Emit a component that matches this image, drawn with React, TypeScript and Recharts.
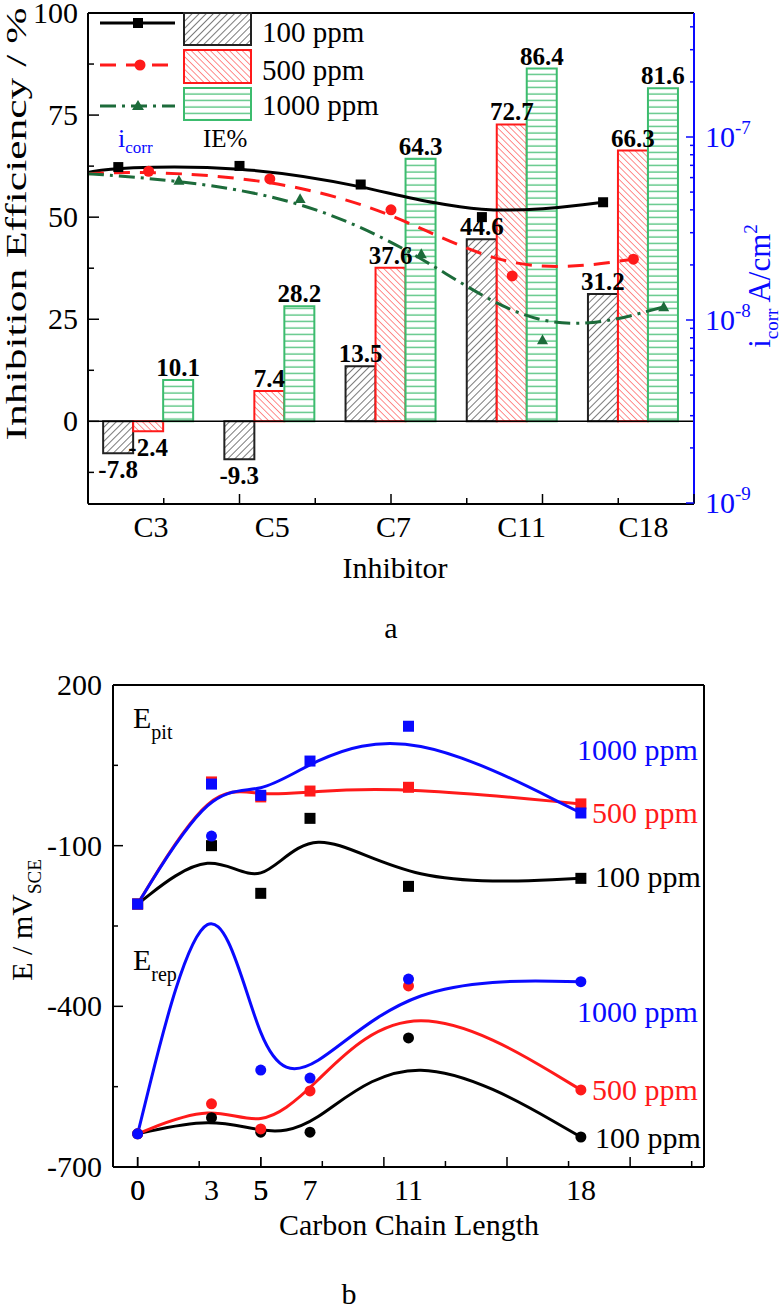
import React from "react"
import {
  ComposedChart,
  Bar,
  Line,
  XAxis,
  YAxis,
  ReferenceLine,
  LabelList,
} from "recharts"

const SERIF = "'Liberation Serif', 'Times New Roman', Times, serif"
const BLUE = "#0a0aff"
const RED = "#ff1a1a"
const DKGREEN = "#1c6b3a"
const BARGREEN = "#3cbc6e"

// ---------- (a) inhibition efficiency (bars) + i_corr (curves)
const inhibitors = ["C3", "C5", "C7", "C11", "C18"]
const ie100 = [-7.8, -9.3, 13.5, 44.6, 31.2]
const ie500 = [-2.4, 7.4, 37.6, 72.7, 66.3]
const ie1000 = [10.1, 28.2, 64.3, 86.4, 81.6]

// i_corr in A/cm2, first entry = blank (no inhibitor)
const icorr100 = [6.4e-8, 6.85e-8, 6.95e-8, 5.5e-8, 3.65e-8, 4.4e-8]
const icorr500 = [6.3e-8, 6.5e-8, 5.9e-8, 4.0e-8, 1.74e-8, 2.15e-8]
const icorr1000 = [6.3e-8, 5.8e-8, 4.6e-8, 2.3e-8, 7.8e-9, 1.18e-8]

const ieTicks = [-12.5, 0, 12.5, 25, 37.5, 50, 62.5, 75, 87.5, 100]
const ieLabels = [0, 25, 50, 75, 100]
const icorrMajor = [1e-9, 1e-8, 1e-7]
const icorrMinor = [
  2e-9, 3e-9, 4e-9, 5e-9, 6e-9, 7e-9, 8e-9, 9e-9,
  2e-8, 3e-8, 4e-8, 5e-8, 6e-8, 7e-8, 8e-8, 9e-8,
  2e-7, 3e-7, 4e-7,
]
const inhMajorMarks = [0, 1.25, 2.5, 3.75, 5]
const inhMinorMarks = [0.625, 1.875, 3.125, 4.375]

// ---------- (b) E_pit / E_rep vs carbon chain length
const chainLength = [0, 3, 5, 7, 11, 18]
const pit100 = [-209, -100, -189, -49, -176, -161]
const pit500 = [-209, 19, -9, 2, 9, -22]
const pit1000 = [-209, 15, -6, 58, 123, -39]
const rep100 = [-638, -608, -635, -635, -459, -644]
const rep500 = [-638, -582, -629, -558, -362, -556]
const rep1000 = [-638, -82, -519, -534, -349, -354]

const chainMajorMarks = [0, 5, 10, 15, 20]
const chainMinorMarks = [2.5, 7.5, 12.5, 17.5, 22.5]
const eTicks = [200, 50, -100, -250, -400, -550, -700]
const eLabels = [200, -100, -400, -700]

// build tables for the library
const barRows = inhibitors.map((name, i) => ({
  name,
  c100: ie100[i],
  c500: ie500[i],
  c1000: ie1000[i],
}))
// markers sit on their own bar: 100 left, 500 middle, 1000 right
const curve = (vals: number[], shift: number) =>
  vals.map((v, i) => ({ x: i === 0 ? 0 : i - 0.5 + shift, v }))
const chainRows = (vals: number[]) => chainLength.map((x, i) => ({ x, v: vals[i] }))

const txt = (size: number, extra: React.CSSProperties = {}): React.CSSProperties => ({
  fontFamily: SERIF,
  fontSize: size,
  ...extra,
})

// ---------- markers
const dotShape = (shape: string, color: string, size: number, skipFirst: boolean) =>
  (p: any) => {
    const { cx, cy, index } = p
    if (cx == null || cy == null || (skipFirst && index === 0)) return <g key={`d${index}`} />
    const h = size / 2
    if (shape === "square")
      return <rect key={`d${index}`} x={cx - h} y={cy - h} width={size} height={size} fill={color} />
    if (shape === "circle")
      return <circle key={`d${index}`} cx={cx} cy={cy} r={h} fill={color} />
    return (
      <polygon
        key={`d${index}`}
        points={`${cx},${cy - h} ${cx + h},${cy + h * 0.8} ${cx - h},${cy + h * 0.8}`}
        fill={color}
      />
    )
  }

// ---------- ticks (all drawn inward, Origin style)
const IeTick = (p: any) => {
  const v = p.payload.value
  const major = ieLabels.includes(v)
  return (
    <g>
      <line x1={p.x} x2={p.x + (major ? 11 : 6)} y1={p.y} y2={p.y} stroke="#000" strokeWidth={1.5} />
      {major && (
        <text x={p.x - 10} y={p.y + 10} textAnchor="end" fill="#000" style={txt(30)}>
          {v}
        </text>
      )}
    </g>
  )
}

const IcorrTick = (p: any) => {
  const v = p.payload.value
  const exp = Math.round(Math.log10(v))
  const major = icorrMajor.includes(v)
  return (
    <g>
      <line x1={p.x} x2={p.x - (major ? 8 : 4)} y1={p.y} y2={p.y} stroke={BLUE} strokeWidth={1.5} />
      {major && (
        <text x={p.x + 11} y={p.y + 10} fill={BLUE} style={txt(30)}>
          <tspan>10</tspan>
          <tspan dy={-13} style={txt(19)}>{String(exp)}</tspan>
        </text>
      )}
    </g>
  )
}

const InhMarkTick = (p: any) => {
  const v = p.payload.value
  const len = inhMajorMarks.includes(v) ? 10 : 6
  return <line x1={p.x} x2={p.x} y1={p.y} y2={p.y - len} stroke="#000" strokeWidth={1.5} />
}

const InhLabelTick = (p: any) => (
  <text x={p.x - 15} y={p.y + 34} fill="#000" style={txt(30)}>
    {p.payload.value}
  </text>
)

const ChainTick = (p: any) => {
  const v = p.payload.value
  const len = chainMajorMarks.includes(v) ? 10 : chainMinorMarks.includes(v) ? 6 : 0
  return (
    <g>
      {len > 0 && <line x1={p.x} x2={p.x} y1={p.y} y2={p.y - len} stroke="#000" strokeWidth={1.5} />}
      {chainLength.includes(v) && (
        <text x={p.x} y={p.y + 33} textAnchor="middle" fill="#000" style={txt(30)}>
          {v}
        </text>
      )}
    </g>
  )
}

const ETick = (p: any) => {
  const v = p.payload.value
  const major = eLabels.includes(v)
  return (
    <g>
      <line x1={p.x} x2={p.x + (major ? 10 : 5)} y1={p.y} y2={p.y} stroke="#000" strokeWidth={1.5} />
      {major && (
        <text x={p.x - 11} y={p.y + 10} textAnchor="end" fill="#000" style={txt(30)}>
          {v}
        </text>
      )}
    </g>
  )
}

const BarValue = (p: any) => {
  const { x, y, width, height, value } = p
  const top = Math.min(y, y + height)
  const bottom = Math.max(y, y + height)
  const neg = value < 0
  return (
    <text
      x={x + width / 2}
      y={neg ? bottom + 25 : top - 4}
      textAnchor="middle"
      fill="#000"
      style={txt(25, { fontWeight: "bold" })}
    >
      {value}
    </text>
  )
}

const Patterns = () => (
  <defs>
    <pattern id="hatch100" width={5} height={5} patternUnits="userSpaceOnUse" patternTransform="rotate(45)">
      <rect width={5} height={5} fill="#fff" />
      <line x1={0} y1={0} x2={0} y2={5} stroke="#222" strokeWidth={1.2} />
    </pattern>
    <pattern id="hatch500" width={4.5} height={4.5} patternUnits="userSpaceOnUse" patternTransform="rotate(-45)">
      <rect width={4.5} height={4.5} fill="#fff" />
      <line x1={0} y1={0} x2={0} y2={4.5} stroke={RED} strokeWidth={1} />
    </pattern>
    <pattern id="hatch1000" width={8} height={6.5} patternUnits="userSpaceOnUse">
      <rect width={8} height={6.5} fill="#fff" />
      <line x1={0} y1={3} x2={8} y2={3} stroke={BARGREEN} strokeWidth={1.2} />
    </pattern>
  </defs>
)

const axisStroke = { stroke: "#000", strokeWidth: 2 }

// axes get a 1px band (a 0 band is not drawn); margins take that into account
const ChartA = () => (
  <ComposedChart
    width={782}
    height={640}
    data={barRows}
    margin={{ top: 12, right: 87, bottom: 135, left: 87 }}
    barCategoryGap="12.5%"
    barGap={0}
  >
    <XAxis xAxisId="num" dataKey="x" type="number" domain={[0, 5]} ticks={[...inhMajorMarks, ...inhMinorMarks]}
      interval={0} height={1} tickSize={0} tickMargin={0} tickLine={false} tick={InhMarkTick} axisLine={axisStroke} allowDataOverflow />
    <XAxis xAxisId="cat" dataKey="name" interval={0} height={1} tickSize={0} tickMargin={0} tickLine={false}
      tick={InhLabelTick} axisLine={false} />
    <XAxis xAxisId="frame" orientation="top" type="number" domain={[0, 1]} height={1} tick={false}
      tickLine={false} axisLine={axisStroke} />
    <YAxis yAxisId="left" type="number" domain={[-20, 100]} ticks={ieTicks} interval={0} width={1}
      tickSize={0} tickMargin={0} tickLine={false} tick={IeTick} axisLine={axisStroke} allowDataOverflow />
    <YAxis yAxisId="right" orientation="right" type="number" scale="log" domain={[1e-9, 4.76e-7]}
      ticks={[...icorrMajor, ...icorrMinor]} interval={0} width={1} tickSize={0} tickMargin={0}
      tickLine={false} tick={IcorrTick} axisLine={{ stroke: BLUE, strokeWidth: 2 }} allowDataOverflow />

    <Bar xAxisId="cat" yAxisId="left" dataKey="c100" fill="url(#hatch100)" stroke="#222" strokeWidth={2} isAnimationActive={false}>
      <LabelList dataKey="c100" content={BarValue} />
    </Bar>
    <Bar xAxisId="cat" yAxisId="left" dataKey="c500" fill="url(#hatch500)" stroke={RED} strokeWidth={2} isAnimationActive={false}>
      <LabelList dataKey="c500" content={BarValue} />
    </Bar>
    <Bar xAxisId="cat" yAxisId="left" dataKey="c1000" fill="url(#hatch1000)" stroke={BARGREEN} strokeWidth={2} isAnimationActive={false}>
      <LabelList dataKey="c1000" content={BarValue} />
    </Bar>
    <ReferenceLine xAxisId="cat" yAxisId="left" y={0} stroke="#000" strokeWidth={1.5} />

    <Line xAxisId="num" yAxisId="right" data={curve(icorr100, -0.25)} dataKey="v" type="basis"
      stroke="#000" strokeWidth={3} dot={dotShape("square", "#000", 10, true)} activeDot={false} isAnimationActive={false} />
    <Line xAxisId="num" yAxisId="right" data={curve(icorr500, 0)} dataKey="v" type="basis"
      stroke={RED} strokeWidth={3} strokeDasharray="16 10" dot={dotShape("circle", RED, 11, true)} activeDot={false} isAnimationActive={false} />
    <Line xAxisId="num" yAxisId="right" data={curve(icorr1000, 0.25)} dataKey="v" type="basis"
      stroke={DKGREEN} strokeWidth={3} strokeDasharray="16 6 3 6" dot={dotShape("triangle", DKGREEN, 11, true)} activeDot={false} isAnimationActive={false} />
  </ComposedChart>
)

const ChartB = () => (
  <ComposedChart width={782} height={673} margin={{ top: 44, right: 77, bottom: 145, left: 112 }}>
    <XAxis xAxisId="x" dataKey="x" type="number" domain={[-1, 23]}
      ticks={[...chainMajorMarks, ...chainMinorMarks, ...chainLength]} interval={0} height={1}
      tickSize={0} tickMargin={0} tickLine={false} tick={ChainTick} axisLine={axisStroke} allowDataOverflow />
    <XAxis xAxisId="frame" orientation="top" type="number" domain={[0, 1]} height={1} tick={false}
      tickLine={false} axisLine={axisStroke} />
    <YAxis yAxisId="e" type="number" domain={[-700, 200]} ticks={eTicks} interval={0} width={1}
      tickSize={0} tickMargin={0} tickLine={false} tick={ETick} axisLine={axisStroke} allowDataOverflow />
    <YAxis yAxisId="frame" orientation="right" type="number" domain={[0, 1]} width={1} tick={false}
      tickLine={false} axisLine={axisStroke} />

    <Line xAxisId="x" yAxisId="e" data={chainRows(pit100)} dataKey="v" type="basis" stroke="#000" strokeWidth={3}
      dot={dotShape("square", "#000", 11, false)} activeDot={false} isAnimationActive={false} />
    <Line xAxisId="x" yAxisId="e" data={chainRows(pit500)} dataKey="v" type="basis" stroke={RED} strokeWidth={3}
      dot={dotShape("square", RED, 11, false)} activeDot={false} isAnimationActive={false} />
    <Line xAxisId="x" yAxisId="e" data={chainRows(pit1000)} dataKey="v" type="basis" stroke={BLUE} strokeWidth={3}
      dot={dotShape("square", BLUE, 11, false)} activeDot={false} isAnimationActive={false} />
    <Line xAxisId="x" yAxisId="e" data={chainRows(rep100)} dataKey="v" type="basis" stroke="#000" strokeWidth={3}
      dot={dotShape("circle", "#000", 11, false)} activeDot={false} isAnimationActive={false} />
    <Line xAxisId="x" yAxisId="e" data={chainRows(rep500)} dataKey="v" type="basis" stroke={RED} strokeWidth={3}
      dot={dotShape("circle", RED, 11, false)} activeDot={false} isAnimationActive={false} />
    <Line xAxisId="x" yAxisId="e" data={chainRows(rep1000)} dataKey="v" type="basis" stroke={BLUE} strokeWidth={3}
      dot={dotShape("circle", BLUE, 11, false)} activeDot={false} isAnimationActive={false} />
  </ComposedChart>
)

const Overlay = () => (
  <svg
    width={782}
    height={1313}
    style={{ position: "absolute", left: 0, top: 0, pointerEvents: "none" }}
  >
    <Patterns />
    {/* legend (a) */}
    <line x1={100} x2={175} y1={23} y2={23} stroke="#000" strokeWidth={3} />
    <rect x={133} y={18} width={10} height={10} fill="#000" />
    <line x1={100} x2={175} y1={65} y2={65} stroke={RED} strokeWidth={3} strokeDasharray="16 10" />
    <circle cx={140} cy={65} r={5.5} fill={RED} />
    <line x1={100} x2={175} y1={106} y2={106} stroke={DKGREEN} strokeWidth={3} strokeDasharray="16 6 3 6" />
    <polygon points="138,100 144,110 132,110" fill={DKGREEN} />
    <rect x={184} y={13} width={67} height={32} fill="url(#hatch100)" stroke="#222" strokeWidth={2} />
    <rect x={184} y={50} width={67} height={33} fill="url(#hatch500)" stroke={RED} strokeWidth={2} />
    <rect x={184} y={88} width={67} height={32} fill="url(#hatch1000)" stroke={BARGREEN} strokeWidth={2} />
    <text x={262} y={42} style={txt(29)}>100 ppm</text>
    <text x={262} y={80} style={txt(29)}>500 ppm</text>
    <text x={262} y={115} style={txt(29)}>1000 ppm</text>
    <text x={118} y={147} fill={BLUE} style={txt(26)}>
      i<tspan dy={6} style={txt(17)}>corr</tspan>
    </text>
    <text x={203} y={147} style={txt(25)}>IE%</text>

    {/* axis titles (a) */}
    <text transform="translate(26,224) rotate(-90) scale(1.45,1)" textAnchor="middle" style={txt(30)}>
      Inhibition Efficiency / %
    </text>
    <text transform="translate(770,286) rotate(-90)" textAnchor="middle" fill={BLUE} style={txt(31)}>
      i<tspan dy={8} style={txt(19)}>corr</tspan>
      <tspan dy={-8}> A/cm</tspan>
      <tspan dy={-13} style={txt(19)}>2</tspan>
    </text>
    <text x={395} y={578} textAnchor="middle" style={txt(30)}>Inhibitor</text>
    <text x={391} y={638} textAnchor="middle" style={txt(30)}>a</text>

    {/* annotations (b) */}
    <text x={133} y={728} style={txt(30)}>
      E<tspan dy={11} style={txt(20)}>pit</tspan>
    </text>
    <text x={133} y={970} style={txt(30)}>
      E<tspan dy={11} style={txt(20)}>rep</tspan>
    </text>
    <text x={577} y={760} fill={BLUE} style={txt(30)}>1000 ppm</text>
    <text x={592} y={823} fill={RED} style={txt(30)}>500 ppm</text>
    <text x={595} y={887} fill="#000" style={txt(30)}>100 ppm</text>
    <text x={577} y={1022} fill={BLUE} style={txt(30)}>1000 ppm</text>
    <text x={592} y={1100} fill={RED} style={txt(30)}>500 ppm</text>
    <text x={595} y={1148} fill="#000" style={txt(30)}>100 ppm</text>

    {/* axis titles (b) */}
    <text transform="translate(32,920) rotate(-90)" textAnchor="middle" style={txt(30)}>
      E / mV<tspan dy={9} style={txt(19)}>SCE</tspan>
    </text>
    <text x={409} y={1235} textAnchor="middle" style={txt(30)}>Carbon Chain Length</text>
    <text x={349} y={1304} textAnchor="middle" style={txt(30)}>b</text>
  </svg>
)

export default function App() {
  return (
    <div style={{ position: "absolute", left: 0, top: 0, width: 782, height: 1313, background: "#fff" }}>
      <div style={{ position: "absolute", left: 0, top: 0 }}>
        <ChartA />
      </div>
      <div style={{ position: "absolute", left: 0, top: 640 }}>
        <ChartB />
      </div>
      <Overlay />
    </div>
  )
}
